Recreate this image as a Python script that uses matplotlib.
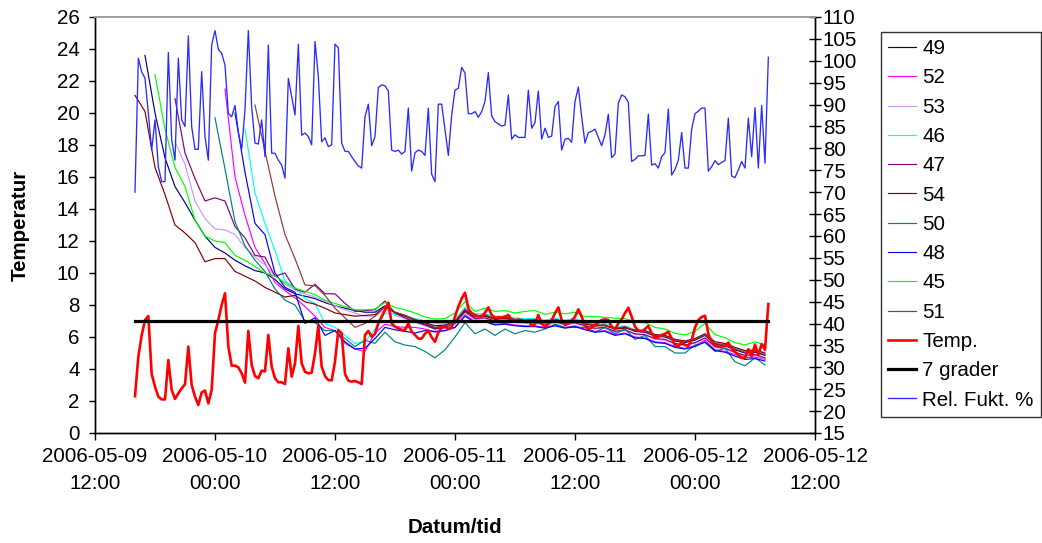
import numpy as np
import pandas as pd
import matplotlib
matplotlib.use("Agg")
import matplotlib.pyplot as plt
import matplotlib.dates as mdates

plt.rcParams['font.family'] = ['Liberation Sans', 'DejaVu Sans']

# ---------------- data ----------------
t_fine = pd.date_range('2006-05-09 16:00', periods=191, freq='20min')
t_hour = pd.date_range('2006-05-09 16:00', periods=64, freq='1h')
nan = np.nan

rel_fukt = [
    70.0, 100.6, 97.5, 96.0, 88.0, 79.6, 86.5, 75.8, 72.4, 72.4,
    101.9, 82.0, 77.3, 100.6, 86.5, 85.0, 105.7, 85.0, 79.8, 79.8,
    97.5, 82.7, 77.3, 103.6, 106.9, 102.6, 101.7, 99.0, 88.0, 87.2,
    89.8, 83.8, 79.8, 88.8, 106.9, 89.5, 81.2, 81.0, 86.5, 78.1,
    103.6, 78.9, 78.9, 77.3, 76.2, 73.2, 96.0, 91.8, 87.6, 103.8,
    83.0, 83.5, 82.7, 80.8, 104.4, 96.4, 81.5, 82.4, 80.4, 80.8,
    103.8, 103.0, 81.2, 79.3, 79.3, 78.1, 77.0, 76.0, 75.5, 87.2,
    90.1, 80.6, 82.7, 93.9, 94.5, 94.3, 93.1, 79.6, 79.3, 79.6,
    78.7, 79.3, 89.2, 74.8, 79.0, 79.6, 79.3, 78.4, 89.2, 74.1,
    72.4, 90.1, 90.1, 84.2, 78.4, 87.6, 93.3, 93.7, 98.5, 97.2,
    87.9, 87.9, 88.4, 87.1, 88.4, 90.7, 97.3, 87.4, 86.1, 85.6,
    85.1, 85.3, 92.2, 82.1, 83.1, 82.5, 82.5, 82.5, 93.3, 84.6,
    85.9, 93.1, 82.1, 84.6, 82.5, 82.8, 89.5, 90.7, 79.6, 82.1,
    82.3, 81.4, 90.7, 94.0, 87.2, 81.2, 83.6, 83.9, 84.4, 82.5,
    80.6, 83.1, 87.8, 77.9, 78.7, 90.3, 92.2, 91.8, 90.5, 77.0,
    77.5, 78.3, 78.3, 78.4, 87.8, 76.2, 76.5, 75.5, 78.1, 79.0,
    89.0, 73.9, 75.2, 77.3, 83.6, 75.5, 75.5, 84.4, 87.9, 88.5,
    89.2, 89.2, 74.8, 75.8, 77.2, 76.3, 76.8, 77.2, 86.9, 73.7,
    73.3, 75.1, 77.0, 75.5, 86.9, 78.1, 89.3, 75.5, 89.8, 76.6,
    100.8]

temp = [
    2.3, 4.77, 6.1, 7.06, 7.31, 3.69, 2.9, 2.27, 2.1, 2.1,
    4.56, 2.69, 2.13, 2.48, 2.79, 3.04, 5.4, 3.0, 2.27, 1.75,
    2.54, 2.65, 1.85, 2.69, 6.23, 7.06, 8.0, 8.73, 5.4, 4.21,
    4.21, 4.1, 3.73, 3.15, 6.38, 4.25, 3.56, 3.42, 3.9, 3.85,
    6.13, 4.15, 3.42, 3.17, 3.17, 3.06, 5.29, 3.52, 4.35, 6.69,
    4.35, 3.83, 3.73, 3.77, 4.98, 6.69, 4.15, 3.56, 3.31, 3.29,
    4.46, 6.44, 6.23, 3.69, 3.27, 3.21, 3.25, 3.17, 3.06, 6.13,
    6.38, 6.02, 6.2, 6.85, 7.27, 7.69, 8.15, 6.85, 6.65, 6.54,
    6.44, 6.44, 6.85, 6.33, 6.13, 5.9, 5.9, 6.2, 6.4, 5.98,
    5.7, 6.27, 6.6, 6.65, 6.5, 6.6, 7.27, 7.9, 8.4, 8.77,
    7.79, 7.48, 7.38, 7.3, 7.27, 7.52, 7.85, 7.38, 7.21, 7.22,
    7.22, 7.27, 7.38, 7.06, 7.0, 7.1, 7.05, 6.96, 7.06, 6.69,
    6.81, 7.38, 6.85, 6.65, 6.81, 7.06, 7.48, 7.85, 7.06, 6.75,
    6.85, 7.02, 7.27, 7.73, 7.27, 6.75, 6.48, 6.6, 6.75, 6.9,
    7.06, 7.1, 7.06, 6.65, 6.48, 6.85, 7.1, 7.5, 7.83, 7.27,
    6.65, 6.4, 6.35, 6.5, 6.69, 6.23, 5.95, 6.0, 6.13, 6.2,
    6.33, 5.92, 5.5, 5.4, 5.71, 5.5, 5.45, 5.8, 6.6, 7.06,
    7.25, 7.33, 6.2, 5.68, 5.5, 5.42, 5.42, 5.45, 5.65, 5.29,
    5.08, 4.88, 4.7, 4.7, 5.24, 4.77, 5.53, 4.88, 5.56, 5.19,
    8.06]

s49 = [nan, 23.6, 20.0, 17.2, 15.4, 14.4, 13.3, 12.3, 11.6, 11.25,
       10.8, 10.45, 10.15, 10.0, 9.6, 9.0, 8.7, 8.55, 8.4, 8.15,
       7.95, 7.8, 7.65, 7.55, 7.55, 7.95, 7.55, 7.35, 7.1, 6.9,
       6.7, 6.75, 7.0, 7.7, 7.3, 7.35, 7.15, 7.2, 7.1, 7.05,
       7.05, 6.95, 7.1, 6.95, 7.05, 6.85, 6.7, 6.75, 6.5, 6.6,
       6.35, 6.3, 6.05, 6.0, 5.75, 5.65, 5.8, 6.1, 5.55, 5.45,
       5.2, 5.0, 5.05, 4.85]
s52 = [nan] * 9 + [
       21.5, 16.0, 13.6, 11.6, 10.6, 9.4, 8.9, 8.45, 7.9, 7.3,
       6.6, 6.4, 5.6, 5.25, 5.1, 6.25, 6.8, 6.65, 6.6, 6.6,
       6.5, 6.3, 6.4, 6.6, 7.4, 6.95, 7.0, 6.8, 6.85, 6.75,
       6.7, 6.7, 6.6, 6.75, 6.6, 6.7, 6.5, 6.35, 6.4, 6.15,
       6.25, 6.0, 5.95, 5.7, 5.65, 5.4, 5.3, 5.45, 5.8, 5.2,
       5.1, 4.9, 4.7, 4.75, 4.6]
s53 = [nan] * 4 + [
       18.2, 16.8, 14.5, 13.4, 12.75, 12.7, 12.4, 11.6, 11.0, 10.5,
       9.85, 9.3, 8.95, 8.7, 8.5, 8.25, 7.95, 7.7, 7.5, 7.3,
       7.3, 7.75, 7.35, 7.15, 6.9, 6.7, 6.5, 6.55, 6.8, 7.5,
       7.1, 7.15, 6.95, 7.0, 6.9, 6.85, 6.85, 6.75, 6.9, 6.75,
       6.85, 6.65, 6.5, 6.55, 6.3, 6.4, 6.15, 6.1, 5.85, 5.8,
       5.55, 5.45, 5.6, 5.9, 5.35, 5.25, 5.0, 4.8, 4.85, 4.65]
s46 = [nan] * 11 + [
       19.0, 15.0, 13.1, 11.4, 9.5, 9.1, 8.4, 8.1, 6.85, 6.6,
       6.1, 5.6, 5.7, 6.5, 7.5, 7.4, 7.3, 7.15, 7.0, 6.85,
       6.85, 7.1, 7.85, 7.45, 7.45, 7.3, 7.3, 7.2, 7.15, 7.15,
       7.05, 7.2, 7.05, 7.15, 6.95, 6.8, 6.85, 6.6, 6.7, 6.45,
       6.4, 6.15, 6.1, 5.85, 5.75, 5.9, 6.2, 5.65, 5.55, 5.3,
       5.1, 5.15, 4.95]
s47 = [nan] * 4 + [
       20.9, 17.5, 15.9, 14.5, 14.7, 14.5, 12.9, 12.2, 11.1, 11.0,
       9.8, 10.0, 9.0, 8.8, 9.3, 8.7, 8.7, 8.1, 7.6, 7.65,
       7.7, 8.25, 7.5, 7.2, 6.95, 6.75, 6.5, 6.6, 6.85, 7.6,
       7.15, 7.2, 7.0, 7.05, 6.95, 6.9, 6.9, 6.8, 6.95, 6.8,
       6.9, 6.7, 6.55, 6.6, 6.35, 6.45, 6.2, 6.15, 5.9, 5.85,
       5.6, 5.5, 5.65, 5.95, 5.4, 5.3, 5.05, 4.85, 4.9, 4.7]
s54 = [21.1, 20.1, 16.6, 14.9, 13.0, 12.5, 11.9, 10.7, 10.9, 10.9,
       10.1, 9.8, 9.5, 9.1, 8.8, 8.5, 8.6, 8.2, 8.05, 7.8,
       7.5, 7.4, 7.3, 7.35, 7.4, 7.9, 7.5, 7.3, 7.05, 6.8,
       6.55, 6.7, 6.95, 7.6, 7.25, 7.3, 7.1, 7.15, 7.05, 7.0,
       7.0, 6.9, 7.05, 6.9, 7.0, 6.8, 6.7, 6.7, 6.5, 6.55,
       6.45, 6.4, 6.15, 6.1, 5.85, 5.75, 5.9, 6.2, 5.7, 5.6,
       5.35, 5.15, 5.2, 5.0]
s50 = [nan] * 8 + [
       19.7, 16.5, 13.2, 11.7, 10.8, 10.1, 9.0, 8.3, 8.0, 7.0,
       6.9, 6.4, 6.4, 5.9, 5.4, 5.8, 5.6, 6.3, 5.7, 5.5,
       5.4, 5.1, 4.7, 5.2, 6.0, 6.9, 6.2, 6.5, 6.1, 6.5,
       6.2, 6.4, 6.3, 6.5, 6.8, 6.6, 6.6, 6.6, 6.3, 6.6,
       6.2, 6.5, 5.85, 6.1, 5.4, 5.4, 5.0, 5.0, 5.5, 5.65,
       5.1, 5.3, 4.45, 4.2, 4.7, 4.25]
s48 = [nan] * 10 + [
       20.0, 16.3, 13.1, 12.4, 10.0, 9.1, 8.8, 6.85, 7.2, 6.1,
       6.4, 5.7, 5.25, 5.3, 5.9, 6.6, 6.45, 6.35, 6.25, 6.4,
       6.35, 6.4, 6.6, 7.3, 6.9, 6.95, 6.75, 6.8, 6.7, 6.65,
       6.65, 6.55, 6.7, 6.55, 6.65, 6.45, 6.3, 6.35, 6.1, 6.2,
       5.95, 5.9, 5.65, 5.6, 5.35, 5.25, 5.4, 5.7, 5.15, 5.05,
       4.8, 4.6, 4.65, 4.5]
s45 = [nan, nan, 22.4, 19.0, 16.6, 15.4, 13.3, 12.3, 12.0, 11.9,
       11.1, 10.8, 10.4, 10.0, 9.8, 9.4, 9.05, 8.85, 8.65, 8.3,
       8.1, 7.9, 7.7, 7.7, 7.75, 8.15, 7.85, 7.7, 7.5, 7.25,
       7.12, 7.15, 7.5, 8.2, 7.6, 7.8, 7.6, 7.65, 7.5, 7.6,
       7.65, 7.42, 7.55, 7.45, 7.55, 7.27, 7.27, 7.23, 7.17, 7.15,
       6.96, 6.9, 6.6, 6.5, 6.23, 6.13, 6.35, 6.85, 6.15, 5.95,
       5.65, 5.5, 5.7, 5.5]
s51 = [nan] * 12 + [
       20.5, 17.6, 14.8, 12.4, 10.9, 9.25, 9.2, 8.6, 7.8, 7.2,
       6.6, 6.85, 7.3, 7.9, 7.55, 7.35, 7.1, 6.85, 6.6, 6.7,
       7.0, 7.75, 7.3, 7.4, 7.15, 7.25, 7.1, 7.05, 7.1, 6.95,
       7.1, 6.95, 7.05, 6.85, 6.75, 6.75, 6.55, 6.65, 6.4, 6.35,
       6.1, 6.05, 5.8, 5.7, 5.85, 6.15, 5.6, 5.5, 5.25, 5.05,
       5.1, 4.9]
grader_7 = 7.0

sensor_names = ['49', '52', '53', '46', '47', '54', '50', '48', '45', '51']
sensor_values = [s49, s52, s53, s46, s47, s54, s50, s48, s45, s51]
sensor_colors = ['#000080', '#FF00FF', '#CC99FF', '#00FFFF', '#800080',
                 '#800000', '#008080', '#0000FF', '#00FF00', '#993333']

x_ticks = pd.date_range('2006-05-09 12:00', periods=7, freq='12h')
x_tick_labels = ['2006-05-09\n12:00', '2006-05-10\n00:00', '2006-05-10\n12:00',
                 '2006-05-11\n00:00', '2006-05-11\n12:00', '2006-05-12\n00:00',
                 '2006-05-12\n12:00']

# ---------------- figure ----------------
W, H = 1042, 543
fig = plt.figure(figsize=(W / 100, H / 100), dpi=100)
ax = fig.add_axes([95 / W, 1 - 433 / H, 720 / W, 416 / H])
ax2 = ax.twinx()

FS = 14.8
handles = []
for name, vals, col in zip(sensor_names, sensor_values, sensor_colors):
    h, = ax.plot(t_hour, vals, color=col, lw=0.85, label=name)
    handles.append(h)
h, = ax.plot(t_fine, temp, color='#FF0000', lw=1.9, label='Temp.')
handles.append(h)
h, = ax.plot([t_fine[0], t_fine[-1]], [grader_7, grader_7], color='black', lw=2.3,
             label='7 grader')
handles.append(h)
h, = ax2.plot(t_fine, rel_fukt, color='#2B2BFF', lw=0.95, label='Rel. Fukt. %')
handles.append(h)

ax.set_xlim(x_ticks[0], x_ticks[-1])
ax.set_ylim(0, 26)
ax.set_yticks(np.arange(0, 27, 2))
ax2.set_ylim(15, 110)
ax2.set_yticks(np.arange(15, 111, 5))
ax.set_xticks(x_ticks)
ax.set_xticklabels(x_tick_labels, fontsize=FS, linespacing=1.55)
ax.tick_params(axis='y', labelsize=FS, direction='out', length=4, width=1, pad=7)
ax.tick_params(axis='x', direction='out', length=5, width=1, pad=5)
ax2.tick_params(axis='y', labelsize=FS, direction='inout', length=9, width=1, pad=1)

for a in (ax, ax2):
    a.spines['top'].set_color('#A0A0A0')
    a.spines['top'].set_linewidth(1.3)
    a.spines['left'].set_linewidth(1.0)
    a.spines['bottom'].set_linewidth(1.0)
    a.spines['right'].set_linewidth(1.0)

ax.set_ylabel('Temperatur', fontsize=FS, fontweight='bold')
ax.yaxis.set_label_coords(-0.09, 0.5)
ax.set_xlabel('Datum/tid', fontsize=FS, fontweight='bold')
ax.xaxis.set_label_coords(0.5, -0.205)

leg = fig.legend(handles=handles, loc='upper left',
                 bbox_to_anchor=(881 / W, 1 - 32 / H), borderaxespad=0,
                 fontsize=FS, frameon=True, fancybox=False, shadow=False,
                 handlelength=1.35, handletextpad=0.3, labelspacing=0.5,
                 borderpad=0.35)
leg.get_frame().set_edgecolor('black')
leg.get_frame().set_linewidth(1.0)

fig.savefig('out.png', dpi=100, facecolor='white')
